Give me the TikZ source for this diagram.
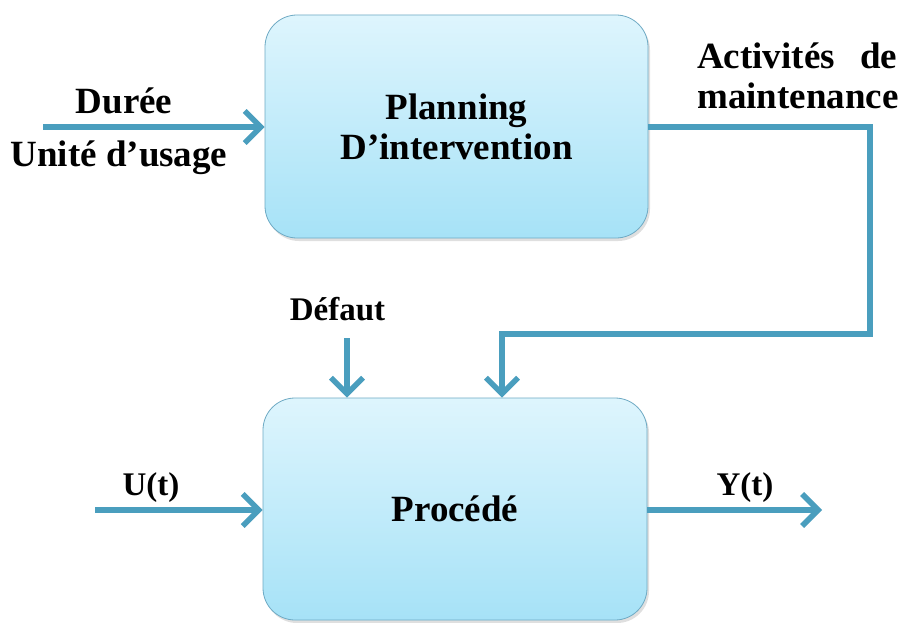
\documentclass[tikz,border=0pt]{standalone}
\usepackage{fontspec}
\setmainfont{Liberation Serif}
\usetikzlibrary{arrows.meta,shadows}
\definecolor{flow}{RGB}{74,158,190}
\definecolor{boxedge}{RGB}{110,170,196}
\definecolor{boxtop}{RGB}{222,245,253}
\definecolor{boxbot}{RGB}{166,226,247}
\tikzset{
  block/.style={draw=boxedge, line width=0.8pt, rounded corners=32pt,
    top color=boxtop, bottom color=boxbot, inner sep=0pt,
    drop shadow={shadow xshift=2pt, shadow yshift=-3pt, opacity=0.25},
    font=\fontsize{37}{42}\selectfont\bfseries, align=center},
  lab/.style={font=\fontsize{37}{42}\selectfont\bfseries, inner sep=0pt, align=center},
  smalllab/.style={font=\fontsize{33}{38}\selectfont\bfseries, inner sep=0pt},
  flowline/.style={draw=flow, line width=6pt, line join=miter,
    -{Straight Barb[length=16pt,width=32pt,line width=5.5pt]}},
  plainline/.style={draw=flow, line width=6pt, line join=miter}
}
\begin{document}
\begin{tikzpicture}[x=1pt,y=-1pt]
  \useasboundingbox (0,0) rectangle (904,623);
  \fill[white] (0,0) rectangle (904,623);

  % the two blocks
  \node[block, minimum width=383pt, minimum height=223pt] (plan) at (456.5,126.5)
    {Planning\\[-2pt]D'intervention};
  \node[block, minimum width=384pt, minimum height=222pt] (proc) at (455,509)
    {Procédé};

  % input to the planning block
  \coordinate (inA) at (43,127);
  \draw[flowline] (inA) -- (plan.west |- inA);
  \node[lab] (duree) at (124,101) {Durée};
  \node[lab] (unite) at (119,158) {Unité d'usage};

  % maintenance activities fed back to the process
  \coordinate (fb1) at (870,127);
  \coordinate (fb2) at (870,334);
  \coordinate (fb3) at (502,334);
  \draw[flowline] (plan.east |- fb1) -- (fb1) -- (fb2) -- (fb3) -- (fb3 |- proc.north);
  \node[lab, text width=200pt, align=left, anchor=north west] (act) at (697,43)
    {Activités\hfill de\\[-2pt]maintenance};

  % disturbance
  \node[smalllab] (defaut) at (337.5,309) {Défaut};
  \coordinate (dtop) at (347,338);
  \draw[flowline] (dtop) -- (dtop |- proc.north);

  % process input and output
  \coordinate (uin) at (95,510);
  \coordinate (yout) at (822,510);
  \draw[flowline] (uin) -- (proc.west |- uin);
  \draw[flowline] (proc.east |- yout) -- (yout);
  \node[smalllab] (ut) at (151,488) {U(t)};
  \node[smalllab] (yt) at (745,488) {Y(t)};
\end{tikzpicture}
\end{document}
